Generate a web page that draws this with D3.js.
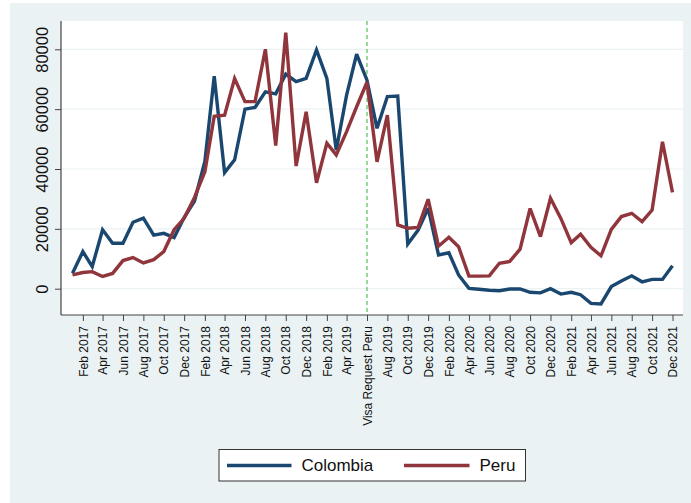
<!DOCTYPE html>
<html>
<head>
<meta charset="utf-8">
<script src="https://cdn.jsdelivr.net/npm/d3@7"></script>
<style>
  html, body { margin: 0; padding: 0; background: #ffffff; }
  svg { display: block; font-family: "Liberation Sans", Arial, Helvetica, sans-serif; }
</style>
</head>
<body>
<svg id="chart" width="691" height="503"></svg>
<script>
// Monthly series, Jan 2017 – Dec 2021
const colombia = [
  5200, 12400, 7400, 19700, 15200, 15200, 22200, 23600, 17900, 18500,
  17100, 23800, 29300, 42500, 71000, 38800, 43100, 60000, 60600, 65800,
  65100, 71700, 69200, 70300, 79800, 70300, 46300, 64700, 78400, 69700,
  53600, 64200, 64400, 14900, 19600, 26900, 11300, 12000, 4600, 100,
  -200, -500, -700, -100, -100, -1200, -1400, 0, -1800, -1200,
  -2000, -4900, -5100, 700, 2600, 4300, 2300, 3100, 3100, 7700
];
const peru = [
  4600, 5400, 5700, 4100, 5100, 9400, 10400, 8600, 9700, 12400,
  19700, 23500, 30500, 39100, 57600, 58000, 70200, 62500, 62500, 80000,
  47800, 85600, 41000, 59100, 35400, 48600, 44700, 52500, 60800, 69000,
  42400, 58000, 21300, 20200, 20500, 29900, 14200, 17200, 14000, 4200,
  4200, 4300, 8500, 9100, 13200, 26800, 17400, 30200, 23500, 15400,
  18200, 13800, 11000, 19800, 24100, 25200, 22400, 26300, 49100, 32200
];
const seriesNames = ["Colombia", "Peru"];
const seriesColors = ["#1a476f", "#90353b"];
const yTicks = [0, 20000, 40000, 60000, 80000];
const xTickLabels = [
  "Feb 2017", "Apr 2017", "Jun 2017", "Aug 2017", "Oct 2017", "Dec 2017",
  "Feb 2018", "Apr 2018", "Jun 2018", "Aug 2018", "Oct 2018", "Dec 2018",
  "Feb 2019", "Apr 2019", "Visa Request Peru", "Aug 2019", "Oct 2019", "Dec 2019",
  "Feb 2020", "Apr 2020", "Jun 2020", "Aug 2020", "Oct 2020", "Dec 2020",
  "Feb 2021", "Apr 2021", "Jun 2021", "Aug 2021", "Oct 2021", "Dec 2021"
];
const eventMonth = new Date(2019, 5, 1);

const months = d3.timeMonth.range(new Date(2017, 0, 1), new Date(2022, 0, 1));
// a tick every second month, starting with February 2017
const xTicks = months.filter((d, i) => i % 2 === 1);

const svg = d3.select("#chart");

// page background and plot region
const plot = { left: 61, right: 683, top: 21, bottom: 315 };
svg.append("rect").attr("x", 10).attr("y", 3).attr("width", 681).attr("height", 500)
  .attr("fill", "#eaf2f3");
svg.append("rect").attr("x", plot.left).attr("y", plot.top)
  .attr("width", plot.right - plot.left).attr("height", plot.bottom - plot.top)
  .attr("fill", "#ffffff");

const x = d3.scaleTime().domain([months[0], months[months.length - 1]]).range([72.5, 672.5]);
const y = d3.scaleLinear().domain([0, 80000]).range([288.7, 49.3]);

// horizontal grid
svg.append("g").selectAll("line").data(yTicks).join("line")
  .attr("x1", plot.left).attr("x2", plot.right)
  .attr("y1", d => y(d)).attr("y2", d => y(d))
  .attr("stroke", "#eaf2f3").attr("stroke-width", 1.2);

// y axis
const yAxis = svg.append("g").attr("transform", `translate(${plot.left},0)`)
  .call(d3.axisLeft(y).tickValues(yTicks).tickSize(6).tickPadding(0).tickFormat(d3.format("d")));
yAxis.select(".domain").remove();
yAxis.selectAll(".tick line").attr("stroke", "#444");
yAxis.selectAll(".tick text")
  .attr("font-size", "16.5px").attr("fill", "#111")
  .attr("transform", "translate(-19,0) rotate(-90)")
  .attr("x", 0).attr("y", 0).attr("dy", "0.35em")
  .attr("text-anchor", "middle");
svg.append("line").attr("x1", plot.left).attr("x2", plot.left)
  .attr("y1", plot.top).attr("y2", plot.bottom).attr("stroke", "#444").attr("stroke-width", 1.2);

// x axis
const xAxis = svg.append("g").attr("transform", `translate(0,${plot.bottom})`)
  .call(d3.axisBottom(x).tickValues(xTicks).tickSize(6)
    .tickFormat((d, i) => xTickLabels[i]));
xAxis.select(".domain").remove();
xAxis.selectAll(".tick line").attr("stroke", "#444");
xAxis.selectAll(".tick text")
  .attr("font-size", "12px").attr("fill", "#111")
  .attr("transform", "rotate(-90)")
  .attr("x", -11).attr("y", 0).attr("dy", "0.35em")
  .attr("text-anchor", "end");
svg.append("line").attr("x1", plot.left).attr("x2", plot.right)
  .attr("y1", plot.bottom).attr("y2", plot.bottom).attr("stroke", "#444").attr("stroke-width", 1.2);

// event marker
svg.append("line")
  .attr("x1", x(eventMonth)).attr("x2", x(eventMonth))
  .attr("y1", plot.top).attr("y2", plot.bottom)
  .attr("stroke", "#32b432").attr("stroke-width", 1).attr("stroke-dasharray", "4,3");

// series lines
const line = d3.line().x((d, i) => x(months[i])).y(d => y(d));
[colombia, peru].forEach((vals, k) => {
  svg.append("path").datum(vals)
    .attr("d", line)
    .attr("fill", "none")
    .attr("stroke", seriesColors[k])
    .attr("stroke-width", 3.4)
    .attr("stroke-linejoin", "miter")
    .attr("stroke-miterlimit", 3);
});

// legend
const legend = svg.append("g");
legend.append("rect").attr("x", 219).attr("y", 449.5).attr("width", 306.5).attr("height", 31.5)
  .attr("fill", "#ffffff").attr("stroke", "#333").attr("stroke-width", 1);
const legendItems = [
  { x1: 227, x2: 291.5, tx: 301.5 },
  { x1: 404, x2: 469.5, tx: 479.5 }
];
legendItems.forEach((it, k) => {
  legend.append("line").attr("x1", it.x1).attr("x2", it.x2).attr("y1", 465.5).attr("y2", 465.5)
    .attr("stroke", seriesColors[k]).attr("stroke-width", 3.4);
  legend.append("text").attr("x", it.tx).attr("y", 465.5).attr("dy", "0.35em")
    .attr("font-size", "17px").attr("fill", "#111").text(seriesNames[k]);
});
</script>
</body>
</html>
